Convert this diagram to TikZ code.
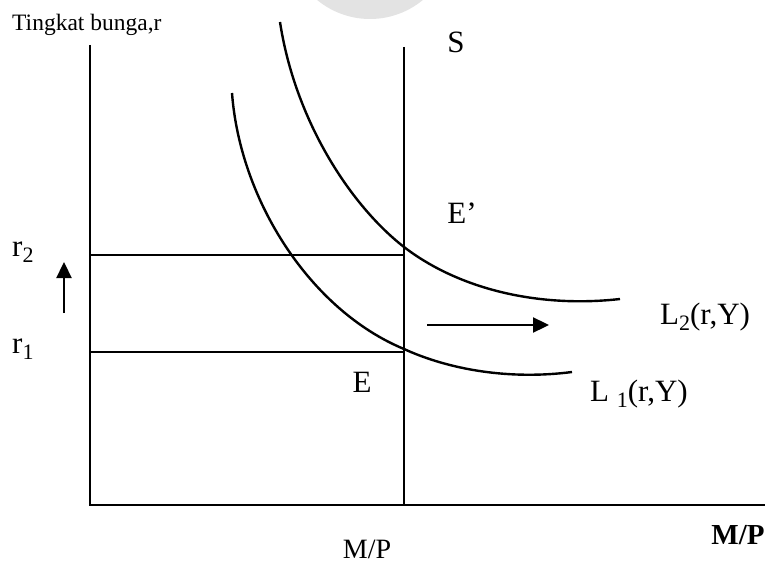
\documentclass[tikz,border=0pt]{standalone}
\usepackage{fontspec}
\setmainfont{Liberation Serif}
\usetikzlibrary{arrows.meta}
\newcommand{\lowsub}[1]{\raisebox{-0.22em}{\fontsize{22}{22}\selectfont #1}}
\tikzset{
  axisline/.style={line width=2.8pt},
  guideline/.style={line width=2.3pt},
  curveline/.style={line width=2.4pt},
  shiftarrow/.style={line width=2.3pt,-{Triangle[length=16pt,width=15pt]}},
  lbl/.style={inner sep=0pt,font=\fontsize{31}{31}\selectfont},
}
\begin{document}
\begin{tikzpicture}[x=1pt,y=-1pt]
\useasboundingbox (0,0) rectangle (770,567);
\begin{scope}
\clip (0,0) rectangle (770,567);
\fill[gray!22] (370,-64) circle (83);
\end{scope}
% key points
\coordinate (O) at (90,505);
\coordinate (Ytop) at (90,45);
\coordinate (Xend) at (765,505);
\coordinate (Stop) at (404,47);
\coordinate (Sbot) at (404,505);
\coordinate (Ep) at (404,247);
\coordinate (E0) at (404,349);
\coordinate (R2) at (90,255);
\coordinate (R1) at (90,352);
\coordinate (R2e) at (404,255);
\coordinate (R1e) at (404,352);
\coordinate (UpA) at (64,313);
\coordinate (UpB) at (64,262);
\coordinate (RtA) at (427,325);
\coordinate (RtB) at (549,325);
\coordinate (L2s) at (280,22);
\coordinate (L2e) at (620,299);
\coordinate (L1s) at (232,93);
\coordinate (L1e) at (572,372);
% axes
\draw[axisline] (Ytop) -- (O) -- (Xend);
\draw[axisline] (Stop) -- (Sbot);
% rate lines
\draw[guideline] (R2) -- (R2e);
\draw[guideline] (R1) -- (R1e);
% demand curves
\draw[curveline] (L2s) .. controls (295,120) and (350,205) .. (Ep)
  .. controls (460,290) and (540,308) .. (L2e);
\draw[curveline] (L1s) .. controls (240,200) and (310,310) .. (E0)
  .. controls (450,370) and (510,380) .. (L1e);
% arrows
\draw[shiftarrow] (UpA) -- (UpB);
\draw[shiftarrow] (RtA) -- (RtB);
% labels
\node[inner sep=0pt,anchor=base west,font=\fontsize{23.5}{23.5}\selectfont] (ylab) at (12,31) {Tingkat bunga,r};
\node[lbl] (slab) at (456,42) {S};
\node[lbl] (eplab) at (462,213) {E’};
\node[lbl] (elab) at (362,382) {E};
\node[lbl,anchor=base west] (r2lab) at (12,256) {r\lowsub{2}};
\node[lbl,anchor=base west] (r1lab) at (12,353) {r\lowsub{1}};
\node[lbl,anchor=base west] (l2lab) at (660,324) {L\lowsub{2}(r,Y)};
\node[lbl,anchor=base west] (l1lab) at (590,401) {L \lowsub{1}(r,Y)};
\node[lbl,anchor=base,font=\fontsize{28}{28}\selectfont] (mp1) at (367,558) {M/P};
\node[lbl,anchor=base,font=\bfseries\fontsize{29}{29}\selectfont] (mp2) at (738,544) {M/P};
\end{tikzpicture}
\end{document}
